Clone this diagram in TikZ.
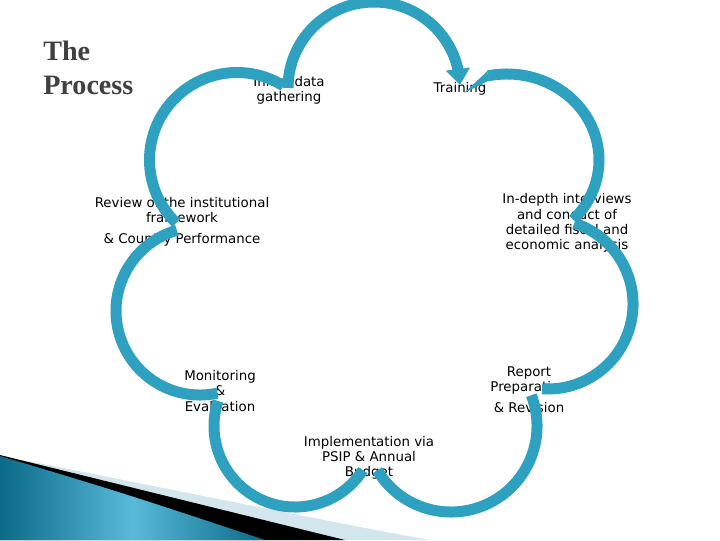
\documentclass[tikz,border=0pt]{standalone}
\usepackage{fontspec}
\setmainfont{DejaVu Sans}
\newfontfamily\titlefont{Liberation Serif}
\usetikzlibrary{arrows.meta,bending}
\definecolor{ringblue}{HTML}{2FA1C0}
\definecolor{titlegray}{HTML}{404040}
\definecolor{swooshdark}{HTML}{0B6A86}
\definecolor{swooshlight}{HTML}{58B9D9}
\definecolor{swooshpale}{HTML}{D4E6ED}

\begin{document}
\begin{tikzpicture}[x=0.025cm,y=-0.025cm,
    stage/.style={align=center,inner sep=0pt,font=\fontsize{9.5}{10.8}\selectfont},
    ringarc/.style={draw=ringblue,line width=0.275cm}]
  \clip (0,0) rectangle (720,540);
  % corner decoration
  \fill[swooshpale] (28,461) .. controls (200,495) and (330,522) .. (430,540) -- (0,540) -- cycle;
  \fill[black] (0,455) -- (345,540) -- (0,540) -- cycle;
  \shade[left color=swooshdark,right color=swooshdark,middle color=swooshlight]
    (0,456) .. controls (120,492) .. (265,540) -- (0,540) -- cycle;

  \node[font=\titlefont\bfseries\fontsize{20}{24}\selectfont,text=titlegray,
    align=left,anchor=west,inner sep=0pt] (title) at (43,68) {The\\Process};

  % stages
  \node[stage] (initial) at (289,90) {Initial data\\gathering};
  \node[stage] (training) at (460,89) {Training};
  \node[stage] (indepth) at (567,223) {In-depth interviews\\and conduct of\\detailed fiscal and\\economic analysis};
  \node[stage] (report) at (529,390) {Report\\Preparation\\[4pt]\& Revision};
  \node[stage] (implement) at (369,458) {Implementation via\\PSIP \& Annual\\Budget};
  \node[stage] (monitor) at (220,391) {Monitoring\\\&\\Evaluation};
  \node[stage] (review) at (182,222) {Review of the institutional\\framework\\[4pt]\& Country Performance};

  % ring of arcs
  \coordinate (c1) at (374,88);
  \coordinate (c2) at (507,160);
  \coordinate (c3) at (548,304);
  \coordinate (c4) at (451,426);
  \coordinate (c5) at (295,426);
  \coordinate (c6) at (200,311);
  \coordinate (c7) at (237,160);
  \draw[ringarc,-{Triangle[length=0.4cm,width=0.58cm]}] ([shift={(180:86)}]c1) arc[start angle=180,end angle=358,radius=86];
  \fill[ringblue] (464,93) -- (487,71.5) -- (489,80.5) -- cycle;
  \draw[ringarc] ([shift={(258:92 and 86)}]c2) arc[start angle=258,end angle=404,x radius=92,y radius=86];
  \draw[ringarc] ([shift={(288:85)}]c3) arc[start angle=288,end angle=454,radius=85];
  \draw[ringarc] ([shift={(339:86)}]c4) arc[start angle=339,end angle=509,radius=86];
  \draw[ringarc] ([shift={(33:81)}]c5) arc[start angle=33,end angle=198,radius=81];
  \draw[ringarc] ([shift={(78:84)}]c6) arc[start angle=78,end angle=254,radius=84];
  \draw[ringarc] ([shift={(134:87.5)}]c7) arc[start angle=134,end angle=302,radius=87.5];
\end{tikzpicture}
\end{document}
